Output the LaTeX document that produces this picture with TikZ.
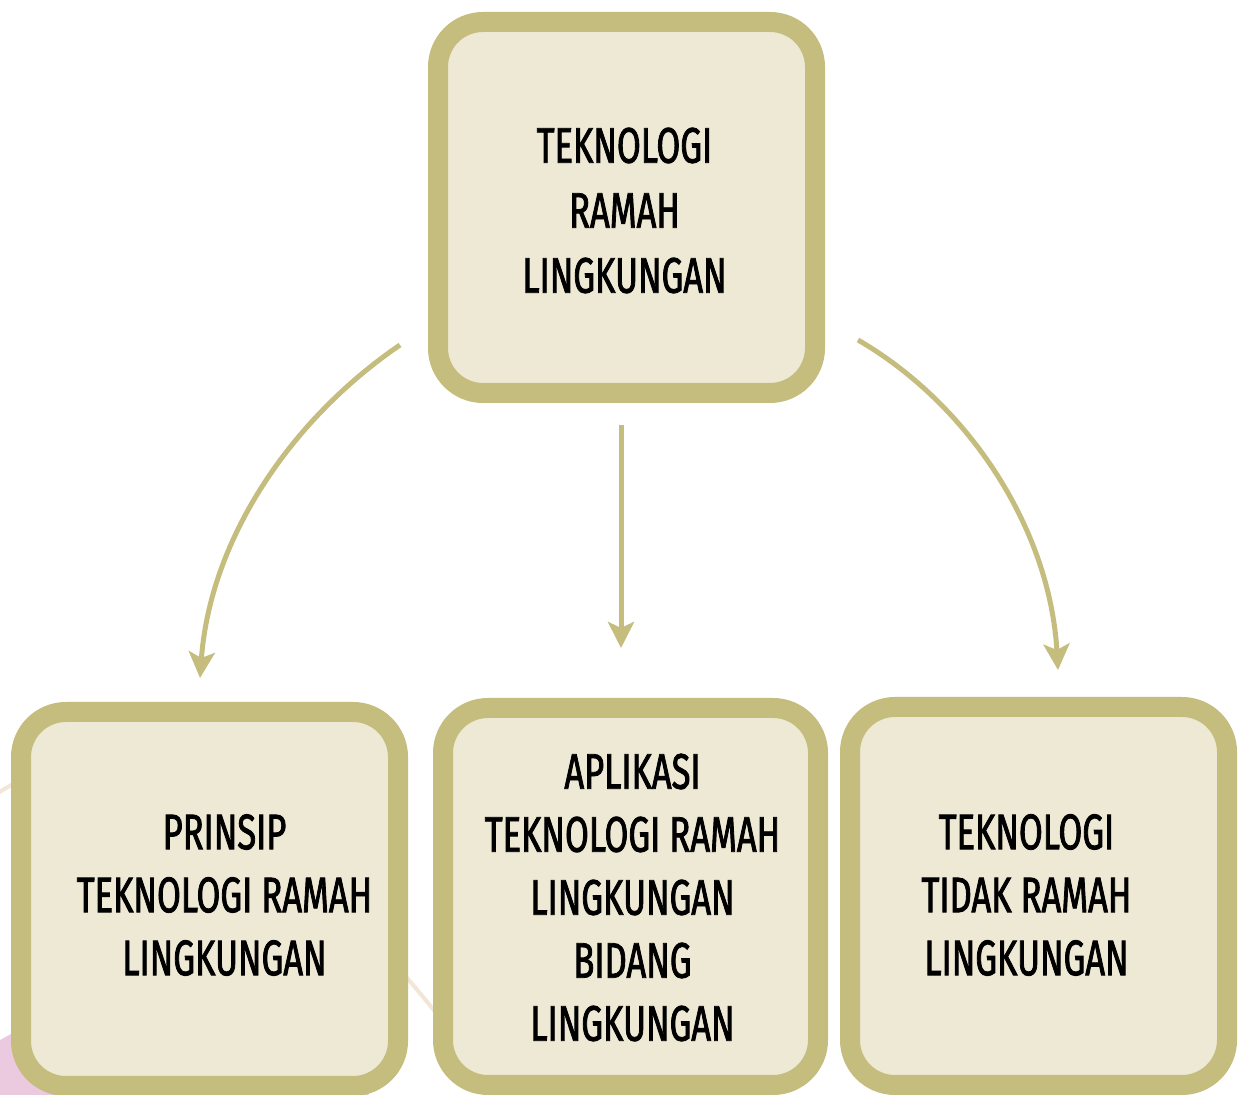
\documentclass[tikz,border=0pt]{standalone}
\usepackage{fontspec}
\setmainfont{Fira Sans}[FakeStretch=0.69,FakeBold=1.6]
\usetikzlibrary{arrows.meta,calc}
\definecolor{olive}{HTML}{C5BD7D}
\definecolor{cream}{HTML}{EEE9D5}
\definecolor{pinkbg}{HTML}{EBC9DF}
\definecolor{beigeline}{HTML}{F3E6D6}
\begin{document}
\begin{tikzpicture}[x=0.5pt,y=-0.5pt,
  box/.style={draw=olive,line width=10pt,fill=cream,rounded corners=22.5pt,
    inner sep=0pt},
  lbl/.style={inner sep=0pt,align=center,font=\fontsize{25}{31.5}\selectfont},
  conn/.style={draw=olive,line width=2.5pt,
    -{Stealth[length=13pt,width=13pt,inset=3pt]}}]
\useasboundingbox (0,0) rectangle (1238,1095);
\fill[white] (0,0) rectangle (1238,1095);
\begin{scope}
\clip (0,0) rectangle (1238,1095);
\fill[pinkbg] (150,1300) circle (300);
\draw[beigeline,line width=2pt] (-5,795) .. controls (150,690) and (330,880) .. (450,1030);
\end{scope}
\node[box,minimum width=188.5pt,minimum height=185.5pt] (top) at (626.5,207.5) {};
\node[box,minimum width=188.5pt,minimum height=187pt] (left) at (209.5,899) {};
\node[box,minimum width=187.5pt,minimum height=188.5pt] (mid) at (630.5,896.5) {};
\node[box,minimum width=188.5pt,minimum height=189pt] (right) at (1038.5,896) {};
\node[lbl,font=\fontsize{25}{32.5}\selectfont] (topT) at ($(top)+(-2,3)$)
  {TEKNOLOGI\\RAMAH\\LINGKUNGAN};
\node[lbl] (leftT) at ($(left)+(15,-4)$)
  {PRINSIP\\TEKNOLOGI RAMAH\\LINGKUNGAN};
\node[lbl] (midT) at ($(mid)+(2,1)$)
  {APLIKASI\\TEKNOLOGI RAMAH\\LINGKUNGAN\\BIDANG\\LINGKUNGAN};
\node[lbl] (rightT) at ($(right)+(-12,-1)$)
  {TEKNOLOGI\\TIDAK RAMAH\\LINGKUNGAN};
\coordinate (a1s) at (400,345);
\coordinate (a1e) at (200,678);
\coordinate (a2s) at (621,425);
\coordinate (a2e) at (621,648);
\coordinate (a3s) at (858,340);
\coordinate (a3e) at (1058,670);
\draw[conn] (a1s) .. controls (290,420) and (210,540) .. (a1e);
\draw[conn] (a2s) -- (a2e);
\draw[conn] (a3s) .. controls (970,405) and (1050,530) .. (a3e);
\end{tikzpicture}
\end{document}
